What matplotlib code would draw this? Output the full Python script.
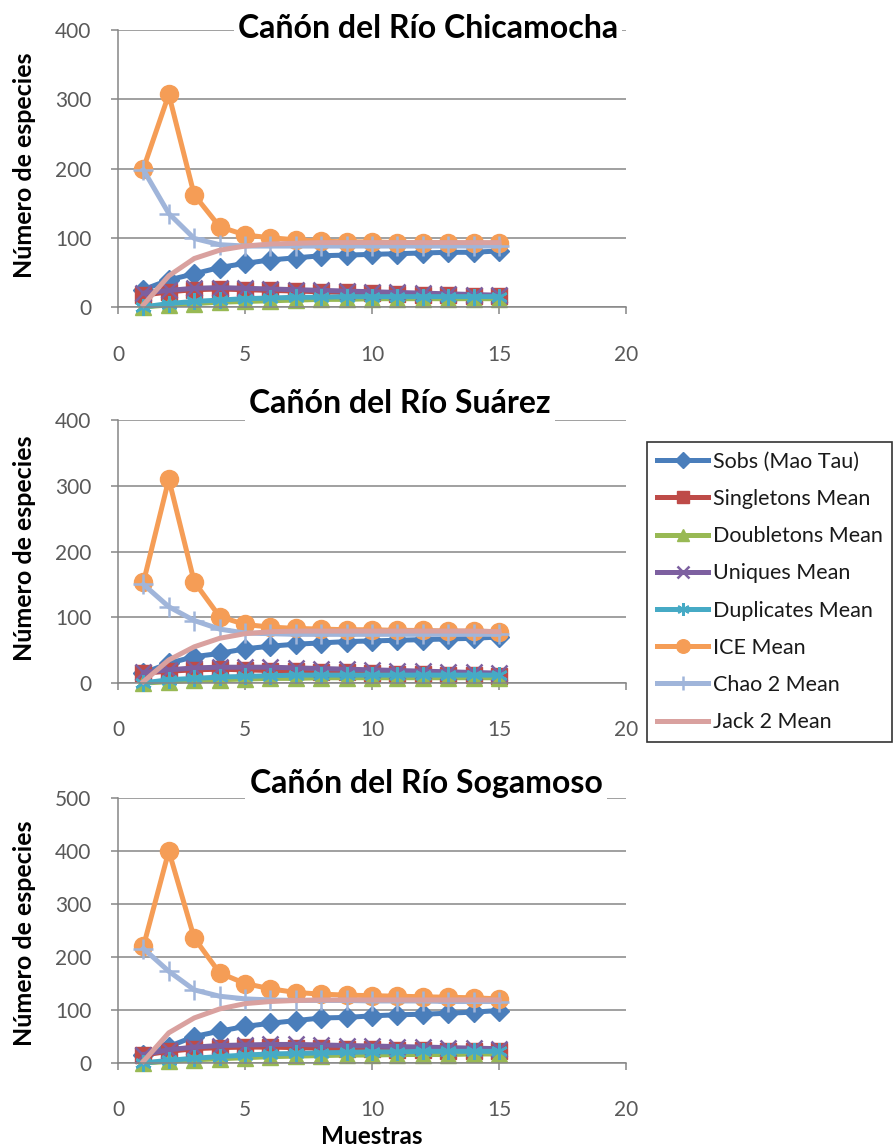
import numpy as np
import matplotlib as mpl
import matplotlib.pyplot as plt

mpl.rcParams['font.family'] = ['Lato', 'DejaVu Sans']

# datos
muestras = [1, 2, 3, 4, 5, 6, 7, 8, 9, 10, 11, 12, 13, 14, 15]
series_names = ['Sobs (Mao Tau)', 'Singletons Mean', 'Doubletons Mean', 'Uniques Mean',
                'Duplicates Mean', 'ICE Mean', 'Chao 2 Mean', 'Jack 2 Mean']
titles = ['Cañón del Río Chicamocha', 'Cañón del Río Suárez', 'Cañón del Río Sogamoso']

# Chicamocha
sobs1 = [25, 39, 48, 57, 63, 68, 71, 74, 75, 76, 77, 78, 79, 79, 81]
sing1 = [17, 22, 25, 26, 25, 24, 23, 22, 21, 20, 19, 18, 17, 16, 16]
doub1 = [0, 3, 5, 7, 8, 9, 10, 11, 11, 12, 12, 12, 12, 12, 12]
uniq1 = [20, 24, 27, 28, 27, 26, 25, 24, 23, 22, 21, 20, 19, 18, 17]
dupl1 = [0, 5, 8, 10, 12, 13, 14, 14, 15, 15, 15, 15, 15, 15, 15]
ice1 = [200, 307, 162, 116, 104, 100, 97, 95, 94, 94, 93, 93, 93, 92, 92]
chao1 = [198, 135, 99, 90, 88, 88, 88, 88, 88, 88, 88, 88, 88, 88, 88]
jack1 = [3, 45, 70, 82, 88, 91, 92, 93, 93, 93, 93, 93, 93, 93, 93]

# Suarez
sobs2 = [15, 30, 40, 45, 52, 56, 59, 61, 63, 64, 65, 66, 67, 68, 70]
sing2 = [15, 18, 20, 21, 20, 19, 18, 17, 16, 15, 14, 13, 12, 12, 11]
doub2 = [0, 2, 4, 5, 6, 7, 7, 8, 8, 8, 8, 8, 8, 8, 8]
uniq2 = [16, 20, 23, 24, 24, 24, 23, 22, 21, 20, 19, 18, 17, 16, 15]
dupl2 = [0, 5, 7, 9, 10, 11, 12, 12, 12, 12, 12, 12, 12, 12, 12]
ice2 = [153, 310, 154, 101, 89, 85, 83, 82, 81, 81, 80, 80, 79, 79, 78]
chao2 = [150, 116, 95, 82, 76, 75, 74, 74, 74, 74, 74, 74, 74, 74, 74]
jack2 = [2, 35, 55, 68, 75, 78, 79, 79, 79, 79, 79, 79, 79, 79, 78]

# Sogamoso
sobs3 = [16, 31, 50, 60, 69, 75, 80, 85, 86, 89, 91, 92, 94, 96, 99]
sing3 = [15, 22, 27, 29, 30, 30, 29, 28, 27, 26, 25, 24, 23, 22, 22]
doub3 = [0, 3, 6, 8, 10, 12, 13, 14, 15, 15, 16, 16, 16, 17, 17]
uniq3 = [16, 25, 30, 33, 34, 35, 35, 34, 33, 32, 31, 30, 29, 28, 27]
dupl3 = [0, 5, 9, 12, 15, 17, 18, 19, 20, 21, 21, 22, 22, 22, 22]
ice3 = [220, 400, 236, 170, 150, 140, 133, 130, 128, 127, 126, 125, 124, 123, 121]
chao3 = [216, 173, 138, 126, 121, 119, 118, 118, 118, 117, 117, 117, 116, 116, 116]
jack3 = [3, 57, 85, 102, 112, 116, 118, 119, 119, 119, 119, 119, 119, 119, 119]

paneles = [
    [sobs1, sing1, doub1, uniq1, dupl1, ice1, chao1, jack1],
    [sobs2, sing2, doub2, uniq2, dupl2, ice2, chao2, jack2],
    [sobs3, sing3, doub3, uniq3, dupl3, ice3, chao3, jack3],
]
ymax = [400, 400, 500]

# estilo de cada serie (color, marcador, tamano)
estilos = [
    ('#4A7EBB', 'D', 10.5),
    ('#BE4B48', 's', 11),
    ('#98B954', '^', 11),
    ('#7D60A0', 'x', 11),
    ('#46AAC5', (6, 2, 0), 12),
    ('#F59D56', 'o', 13),
    ('#A0B5DA', '+', 14),
    ('#D9A19F', None, 0),
]
gris = '#868686'

W, H = 896, 1148
fig = plt.figure(figsize=(W / 100, H / 100), dpi=100)

# posiciones en pixeles: (arriba, abajo) de cada panel
rects = [(30, 307), (420, 683), (798, 1063)]
x_left, x_right = 118, 626
title_pos = [(428, 28), (400, 403), (426, 783)]
ylab_y = [165, 548, 933]

axes = []
for i, (top, bottom) in enumerate(rects):
    ax = fig.add_axes([x_left / W, 1 - bottom / H, (x_right - x_left) / W, (bottom - top) / H])
    axes.append(ax)
    for serie, (c, m, ms) in zip(paneles[i], estilos):
        ax.plot(muestras, serie, color=c, lw=3.6, marker=m, markersize=ms,
                markerfacecolor=c, markeredgecolor=c,
                markeredgewidth=1.8 if m in ('x', '+', (6, 2, 0)) else 1,
                clip_on=False)
    ax.set_xlim(0, 20)
    ax.set_ylim(0, ymax[i])
    ax.set_xticks([0, 5, 10, 15, 20])
    ax.set_yticks(np.arange(0, ymax[i] + 1, 100))
    ax.grid(axis='y', color=gris, lw=1.1)
    ax.set_axisbelow(True)
    for s in ['top', 'right']:
        ax.spines[s].set_visible(False)
    for s in ['left', 'bottom']:
        ax.spines[s].set_color(gris)
        ax.spines[s].set_linewidth(1.1)
    ax.tick_params(axis='both', direction='out', length=5, width=1.1, color=gris,
                   labelcolor='#595959', labelsize=15)
    ax.tick_params(axis='x', pad=22)
    ax.tick_params(axis='y', pad=14)

    tx, ty = title_pos[i]
    fig.text(tx / W, 1 - ty / H, titles[i], ha='center', va='center', fontsize=23,
             fontweight='bold', color='black',
             bbox=dict(facecolor='white', edgecolor='none', pad=3))
    fig.text(25 / W, 1 - ylab_y[i] / H, 'Número de especies', rotation=90, ha='center',
             va='center', fontsize=18, fontweight='bold')

fig.text(372 / W, 1 - 1137 / H, 'Muestras', ha='center', va='center', fontsize=17.5,
         fontweight='bold')

handles = axes[0].get_lines()
leg = fig.legend(handles, series_names, loc='upper left', bbox_to_anchor=(647 / W, 1 - 442 / H),
                 frameon=True, fancybox=False, edgecolor='black', fontsize=15.5,
                 borderaxespad=0, handlelength=2.4, handletextpad=0.2, labelspacing=0.8,
                 borderpad=0.45, markerscale=0.75)
leg.get_frame().set_linewidth(1.2)
for t in leg.get_texts():
    t.set_color('#1a1a1a')

fig.savefig('out.png', dpi=100)
